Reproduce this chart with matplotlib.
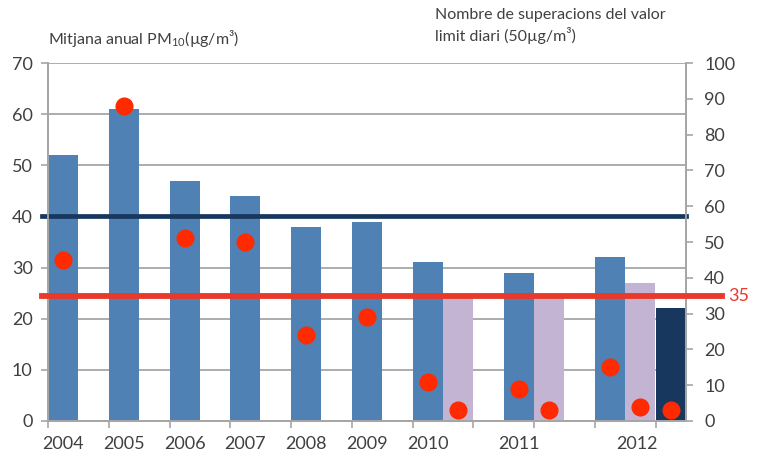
"""
Mitjana anual PM10 i nombre de superacions del valor límit diari
"""

import matplotlib
matplotlib.use('Agg')
import matplotlib.pyplot as plt

# dades
years = ['2004', '2005', '2006', '2007', '2008', '2009', '2010', '2011', '2012']
pm10_mean = [52, 61, 47, 44, 38, 39, 31, 29, 32]
exceed_days = [45, 88, 51, 50, 24, 29, 11, 9, 15]

# segona sèrie (2010-2012) i tercera (2012)
pm10_mean_b = [24, 24, 27]
exceed_days_b = [3, 3, 4]
pm10_mean_c = [22]
exceed_days_c = [3]

limit_annual = 40
limit_days = 35

# posicions a l'eix de categories (una unitat = amplada d'una barra)
slot_a = [0, 2, 4, 6, 8, 10, 12, 15, 18]
slot_b = [13, 16, 19]
slot_c = [20]
label_pos = [0.5, 2.5, 4.5, 6.5, 8.5, 10.5, 12.5, 15.5, 19.4]

BLUE = '#4F81B4'
LAVENDER = '#C3B4D4'
NAVY = '#17375E'
RED_DOT = '#FF2A00'
RED_LINE = '#E8392B'
GRID = '#A6A6A6'
TEXT = '#404040'

plt.rcParams['font.family'] = ['Lato', 'DejaVu Sans']

fig = plt.figure(figsize=(7.58, 4.58), dpi=100)
ax = fig.add_axes([0.0633, 0.0808, 0.8417, 0.7816])
ax2 = ax.twinx()

xa = [s + 0.5 for s in slot_a]
xb = [s + 0.5 for s in slot_b]
xc = [s + 0.5 for s in slot_c]

ax.bar(xa, pm10_mean, width=0.99, color=BLUE, zorder=2)
ax.bar(xb, pm10_mean_b, width=0.99, color=LAVENDER, zorder=2)
ax.bar(xc, pm10_mean_c, width=0.99, color=NAVY, zorder=2)
ax.axhline(limit_annual, xmin=-0.0094, xmax=1.0, color=NAVY, lw=3.4,
           zorder=3, clip_on=False)

ax.set_xlim(0, 21)
ax.set_ylim(0, 70)
ax.set_yticks(range(0, 71, 10))
ax.set_xticks(label_pos)
ax.set_xticklabels(years)
ax.set_xticks(range(0, 21, 2), minor=True)
ax.tick_params(axis='x', which='major', length=0, pad=11,
               labelsize=13, labelcolor=TEXT)
ax.tick_params(axis='x', which='minor', length=5, width=1.2, color=GRID)
ax.tick_params(axis='y', length=5, width=1.2, color=GRID, pad=6,
               labelsize=13, labelcolor=TEXT)
ax.yaxis.grid(True, color=GRID, lw=1.3, zorder=0)
ax.set_axisbelow(True)

# eix dret: superacions
ax2.plot(xa, exceed_days, 'o', color=RED_DOT, ms=12, zorder=5, clip_on=False)
ax2.plot(xb, exceed_days_b, 'o', color=RED_DOT, ms=12, zorder=5, clip_on=False)
ax2.plot(xc, exceed_days_c, 'o', color=RED_DOT, ms=12, zorder=5, clip_on=False)
ax2.axhline(limit_days, xmin=-0.0094, xmax=1.056, color=RED_LINE, lw=4.2,
            zorder=4, clip_on=False)
ax2.text(1.066, limit_days, str(limit_days), transform=ax2.get_yaxis_transform(),
         color=RED_LINE, fontsize=13, va='center', ha='left')
ax2.set_ylim(0, 100)
ax2.set_yticks(range(0, 101, 10))
ax2.tick_params(axis='y', length=5, width=1.2, color=GRID, pad=8,
                labelsize=13, labelcolor=TEXT)

for a in (ax, ax2):
    a.spines['top'].set_visible(False)
    for side in ('left', 'right', 'bottom'):
        a.spines[side].set_color(GRID)
        a.spines[side].set_linewidth(1.3)

fig.text(0.0633, 0.905, r'Mitjana anual PM$_{\mathregular{10}}$(µg/m³)',
         fontsize=11.5, color=TEXT, ha='left', va='baseline')
fig.text(0.574, 0.905, 'Nombre de superacions del valor\nlimit diari (50µg/m³)',
         fontsize=11.5, color=TEXT, ha='left', va='bottom', linespacing=1.35)

plt.savefig('out.png', dpi=100)
plt.close()
